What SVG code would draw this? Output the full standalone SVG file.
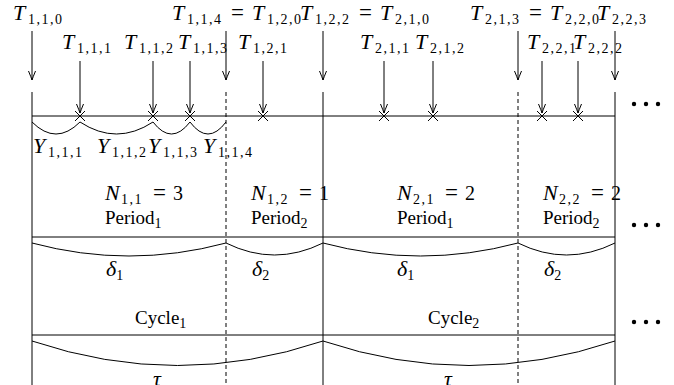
<svg xmlns="http://www.w3.org/2000/svg" width="674" height="385" viewBox="0 0 674 385">
<style>
text{font-family:"Liberation Serif","DejaVu Serif",serif;fill:#000}
.m{font-size:22px;font-style:italic}
.s{font-size:14px;font-style:normal;letter-spacing:1.5px}
.r{font-size:19px;font-style:normal}
.e{font-size:23px;font-style:normal}
.d{font-size:20px;font-style:normal}
.ln{stroke:#000;stroke-width:1;fill:none}
.ds{stroke:#000;stroke-width:1;fill:none;stroke-dasharray:4,3}
.ar{stroke:#000;stroke-width:1;fill:none;marker-end:url(#ah)}
.dot{fill:#000}
</style>
<defs>
<marker id="ah" viewBox="-10 -5 11 10" refX="0" refY="0" markerWidth="11" markerHeight="10" orient="auto" markerUnits="userSpaceOnUse">
<path d="M-9,-3.5 Q-3,-1 0,0 Q-3,1 -9,3.5" fill="none" stroke="#000" stroke-width="1"/>
</marker>
</defs>
<rect width="674" height="385" fill="#fff"/>

<g id="timeline">
<line class="ln" x1="32" y1="116" x2="615" y2="116"/>
<line class="ln" x1="32" y1="237" x2="615" y2="237"/>
<line class="ln" x1="32" y1="335" x2="615" y2="335"/>
<line class="ln" x1="32" y1="92" x2="32" y2="385"/>
<line class="ln" x1="323" y1="92" x2="323" y2="385"/>
<line class="ln" x1="615" y1="92" x2="615" y2="385"/>
<line class="ds" x1="226" y1="92" x2="226" y2="385"/>
<line class="ds" x1="518" y1="92" x2="518" y2="385"/>
</g>

<g id="connectors">
<line class="ar" x1="32" y1="31" x2="32" y2="80"/>
<line class="ar" x1="226" y1="31" x2="226" y2="80"/>
<line class="ar" x1="323" y1="31" x2="323" y2="80"/>
<line class="ar" x1="518" y1="31" x2="518" y2="80"/>
<line class="ar" x1="615" y1="31" x2="615" y2="80"/>
<line class="ar" x1="80" y1="61" x2="80" y2="113"/>
<line class="ar" x1="153" y1="61" x2="153" y2="113"/>
<line class="ar" x1="190" y1="61" x2="190" y2="113"/>
<line class="ar" x1="263" y1="61" x2="263" y2="113"/>
<line class="ar" x1="384" y1="61" x2="384" y2="113"/>
<line class="ar" x1="433" y1="61" x2="433" y2="113"/>
<line class="ar" x1="542" y1="61" x2="542" y2="113"/>
<line class="ar" x1="578" y1="61" x2="578" y2="113"/>
</g>

<g id="events">
<path class="ln" d="M75,111 L85,121 M85,111 L75,121"/>
<path class="ln" d="M148,111 L158,121 M158,111 L148,121"/>
<path class="ln" d="M185,111 L195,121 M195,111 L185,121"/>
<path class="ln" d="M258,111 L268,121 M268,111 L258,121"/>
<path class="ln" d="M379,111 L389,121 M389,111 L379,121"/>
<path class="ln" d="M428,111 L438,121 M438,111 L428,121"/>
<path class="ln" d="M537,111 L547,121 M547,111 L537,121"/>
<path class="ln" d="M573,111 L583,121 M583,111 L573,121"/>
</g>

<g id="braces">
<path class="ln" d="M32,122 Q56,146 80,122"/>
<path class="ln" d="M80,122 Q116.5,146 153,122"/>
<path class="ln" d="M153,122 Q171.5,146 190,122"/>
<path class="ln" d="M190,122 Q208,146 226,122"/>
<path class="ln" d="M32,243 Q129,269 226,243"/>
<path class="ln" d="M226,243 Q274.5,267 323,243"/>
<path class="ln" d="M323,243 Q420.5,269 518,243"/>
<path class="ln" d="M518,243 Q566.5,267 615,243"/>
<path class="ln" d="M32,341 Q177.5,390 323,341"/>
<path class="ln" d="M323,341 Q469,390 615,341"/>
</g>

<g id="dots">
<circle class="dot" cx="634" cy="104" r="2.2"/><circle class="dot" cx="646" cy="104" r="2.2"/><circle class="dot" cx="658" cy="104" r="2.2"/>
<circle class="dot" cx="634" cy="225" r="2.2"/><circle class="dot" cx="646" cy="225" r="2.2"/><circle class="dot" cx="658" cy="225" r="2.2"/>
<circle class="dot" cx="634" cy="322" r="2.2"/><circle class="dot" cx="646" cy="322" r="2.2"/><circle class="dot" cx="658" cy="322" r="2.2"/>
</g>

<g id="label-T110"><text x="13" y="20"><tspan class="m">T</tspan><tspan class="s" x="28" y="24">1,1,0</tspan></text></g>
<g id="label-T114"><text x="172" y="20"><tspan class="m">T</tspan><tspan class="s" x="187" y="24">1,1,4</tspan><tspan class="e" x="231" y="20">=</tspan><tspan class="m" x="252" y="20">T</tspan><tspan class="s" x="267" y="24">1,2,0</tspan></text></g>
<g id="label-T122"><text x="300" y="20"><tspan class="m">T</tspan><tspan class="s" x="315" y="24">1,2,2</tspan><tspan class="e" x="359" y="20">=</tspan><tspan class="m" x="380" y="20">T</tspan><tspan class="s" x="395" y="24">2,1,0</tspan></text></g>
<g id="label-T213"><text x="470" y="20"><tspan class="m">T</tspan><tspan class="s" x="485" y="24">2,1,3</tspan><tspan class="e" x="529" y="20">=</tspan><tspan class="m" x="550" y="20">T</tspan><tspan class="s" x="565" y="24">2,2,0</tspan></text></g>
<g id="label-T223"><text x="597" y="20"><tspan class="m">T</tspan><tspan class="s" x="612" y="24">2,2,3</tspan></text></g>

<g id="label-T111"><text x="62" y="49"><tspan class="m">T</tspan><tspan class="s" x="77" y="53">1,1,1</tspan></text></g>
<g id="label-T112"><text x="124" y="49"><tspan class="m">T</tspan><tspan class="s" x="139" y="53">1,1,2</tspan></text></g>
<g id="label-T113"><text x="178" y="49"><tspan class="m">T</tspan><tspan class="s" x="193" y="53">1,1,3</tspan></text></g>
<g id="label-T121"><text x="238" y="49"><tspan class="m">T</tspan><tspan class="s" x="253" y="53">1,2,1</tspan></text></g>
<g id="label-T211"><text x="360" y="49"><tspan class="m">T</tspan><tspan class="s" x="375" y="53">2,1,1</tspan></text></g>
<g id="label-T212"><text x="415" y="49"><tspan class="m">T</tspan><tspan class="s" x="430" y="53">2,1,2</tspan></text></g>
<g id="label-T221"><text x="527" y="49"><tspan class="m">T</tspan><tspan class="s" x="542" y="53">2,2,1</tspan></text></g>
<g id="label-T222"><text x="573" y="49"><tspan class="m">T</tspan><tspan class="s" x="588" y="53">2,2,2</tspan></text></g>

<g id="label-Y111"><text x="33" y="153"><tspan class="m">Y</tspan><tspan class="s" x="48" y="157">1,1,1</tspan></text></g>
<g id="label-Y112"><text x="97" y="153"><tspan class="m">Y</tspan><tspan class="s" x="112" y="157">1,1,2</tspan></text></g>
<g id="label-Y113"><text x="148" y="153"><tspan class="m">Y</tspan><tspan class="s" x="163" y="157">1,1,3</tspan></text></g>
<g id="label-Y114"><text x="203" y="153"><tspan class="m">Y</tspan><tspan class="s" x="218" y="157">1,1,4</tspan></text></g>

<g id="label-N11"><text x="105" y="200"><tspan class="m">N</tspan><tspan class="s" x="121" y="204">1,1</tspan><tspan class="e" x="153" y="200">=</tspan><tspan class="d" x="173" y="200">3</tspan></text><text class="r" x="105" y="224">Period<tspan class="s" y="228">1</tspan></text></g>
<g id="label-N12"><text x="251" y="200"><tspan class="m">N</tspan><tspan class="s" x="267" y="204">1,2</tspan><tspan class="e" x="299" y="200">=</tspan><tspan class="d" x="319" y="200">1</tspan></text><text class="r" x="251" y="224">Period<tspan class="s" y="228">2</tspan></text></g>
<g id="label-N21"><text x="397" y="200"><tspan class="m">N</tspan><tspan class="s" x="413" y="204">2,1</tspan><tspan class="e" x="445" y="200">=</tspan><tspan class="d" x="465" y="200">2</tspan></text><text class="r" x="397" y="224">Period<tspan class="s" y="228">1</tspan></text></g>
<g id="label-N22"><text x="543" y="200"><tspan class="m">N</tspan><tspan class="s" x="559" y="204">2,2</tspan><tspan class="e" x="591" y="200">=</tspan><tspan class="d" x="611" y="200">2</tspan></text><text class="r" x="543" y="224">Period<tspan class="s" y="228">2</tspan></text></g>

<g id="label-d1a"><text x="106" y="276"><tspan class="m">δ</tspan><tspan class="s" y="280">1</tspan></text></g>
<g id="label-d2a"><text x="252" y="276"><tspan class="m">δ</tspan><tspan class="s" y="280">2</tspan></text></g>
<g id="label-d1b"><text x="397" y="276"><tspan class="m">δ</tspan><tspan class="s" y="280">1</tspan></text></g>
<g id="label-d2b"><text x="544" y="276"><tspan class="m">δ</tspan><tspan class="s" y="280">2</tspan></text></g>

<g id="label-C1"><text class="r" x="135" y="324">Cycle<tspan class="s" y="328">1</tspan></text></g>
<g id="label-C2"><text class="r" x="428" y="324">Cycle<tspan class="s" y="328">2</tspan></text></g>

<g id="label-tau1"><text class="m" x="153" y="386">τ</text></g>
<g id="label-tau2"><text class="m" x="444" y="386">τ</text></g>
</svg>
